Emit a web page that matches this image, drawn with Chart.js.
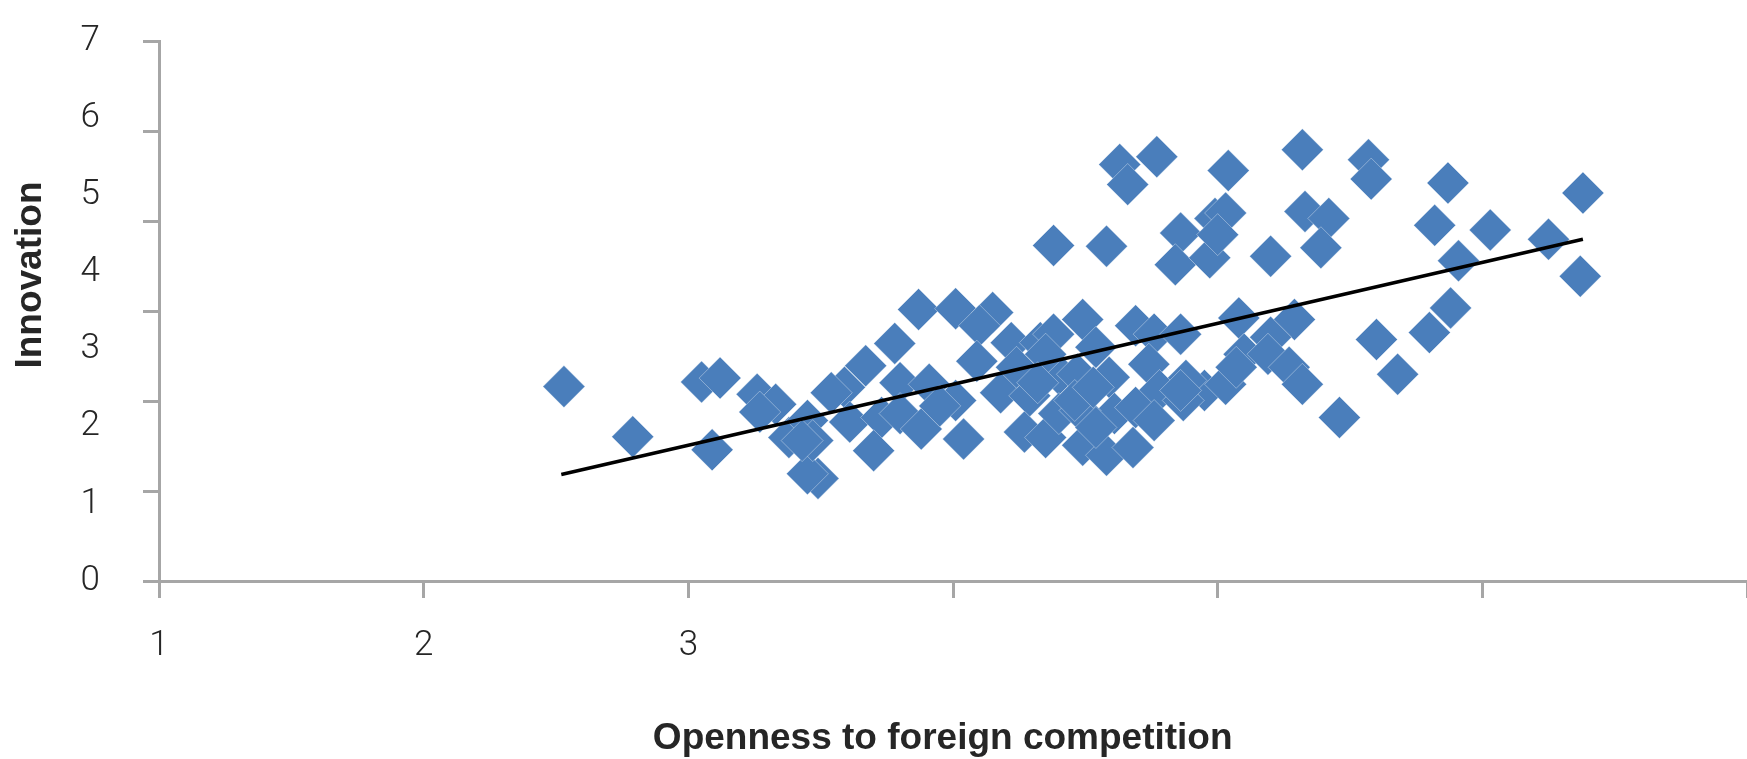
<!DOCTYPE html>
<html>
<head>
<meta charset="utf-8">
<script src="https://cdn.jsdelivr.net/npm/chart.js@4"></script>
<style>
  html, body { margin: 0; padding: 0; background: #fff; }
  #wrap { width: 1747px; height: 759px; }
</style>
</head>
<body>
<div id="wrap"><canvas id="chart" width="1747" height="759"></canvas></div>
<script>
// values: openness to foreign competition (x) vs innovation (y)
const openness = [
  2.53, 2.79, 3.05, 3.12, 3.09, 3.26, 3.33, 3.27, 3.38,
  4.38, 3.87, 4.01, 4.15, 4.10, 3.78, 3.67, 3.59, 3.54, 3.80,
  3.91, 4.09, 4.22, 4.33, 4.38, 4.18, 4.29, 3.61, 3.73, 3.80,
  3.88, 4.01, 4.04, 3.70, 4.27, 4.35, 3.49, 3.45, 3.45, 3.47,
  3.43, 3.95, 4.40, 4.24, 4.35, 4.40,
  4.63, 4.66, 4.77, 5.04, 5.32, 4.58, 4.86, 4.84, 4.97, 4.99,
  5.03, 5.00, 5.20, 5.33, 5.42, 5.39, 4.49, 4.69, 4.76, 4.86,
  5.08, 5.29, 5.20, 4.54, 4.74, 5.10, 5.19, 5.27, 5.32, 4.59,
  4.47, 4.95, 5.03, 5.07, 4.88, 4.78, 4.61, 4.69, 4.48, 4.87,
  4.49, 4.58, 4.68, 5.46, 4.54, 4.76,
  5.57, 5.58, 5.87, 6.38, 5.82, 6.03, 6.25, 5.91, 6.37, 5.88,
  5.80, 5.60, 5.68,
  4.46, 4.86, 4.32, 4.53
];
const innovation = [
  2.52, 1.87, 2.58, 2.63, 1.70, 2.42, 2.29, 2.19, 1.86,
  4.35, 3.52, 3.53, 3.48, 3.31, 3.08, 2.79, 2.51, 2.44, 2.57,
  2.55, 2.85, 3.09, 3.09, 3.20, 2.44, 2.40, 2.06, 2.12, 2.17,
  1.97, 2.34, 1.84, 1.69, 1.93, 1.86, 1.33, 1.39, 2.08, 1.82,
  1.82, 2.27, 2.68, 2.77, 2.94, 2.17,
  5.40, 5.14, 5.50, 5.32, 5.59, 4.34, 4.51, 4.10, 4.19, 4.70,
  4.77, 4.49, 4.21, 4.79, 4.70, 4.32, 3.39, 3.31, 3.20, 3.20,
  3.41, 3.39, 3.16, 3.03, 2.81, 2.94, 2.94, 2.77, 2.55, 2.64,
  2.68, 2.47, 2.55, 2.77, 2.60, 2.47, 2.17, 2.25, 2.21, 2.34,
  1.76, 1.63, 1.73, 2.12, 1.99, 2.08,
  5.46, 5.21, 5.16, 5.03, 4.61, 4.55, 4.43, 4.15, 3.95, 3.54,
  3.22, 3.13, 2.68,
  2.34, 2.47, 2.57, 2.51
];

// trend line end points
const trendX = [2.52, 6.38];
const trendY = [1.38, 4.43];

// only these x labels are printed
const xLabelsShown = [1, 2, 3];

const axisGrey = '#a6a6a6';
const textColor = '#262626';
const fontFamily = 'Roboto, "Liberation Sans", sans-serif';
const titleFont = { family: '"Liberation Sans", Arial, sans-serif', size: 37, weight: 'bold', lineHeight: 1 };

const points = openness.map((x, i) => ({ x: x, y: innovation[i] }));
const trend = trendX.map((x, i) => ({ x: x, y: trendY[i] }));

// note: ticks.padding also pads the chart area in Chart.js, so the label gaps
// are made with line height / hidden tick length instead
new Chart(document.getElementById('chart'), {
  type: 'scatter',
  data: {
    datasets: [
      {
        label: 'Trend',
        data: trend,
        showLine: true,
        borderColor: '#000',
        borderWidth: 3.5,
        pointRadius: 0,
        yAxisID: 'y'
      },
      {
        label: 'Countries',
        data: points,
        pointStyle: 'rectRot',
        pointRadius: 21,
        pointHoverRadius: 21,
        backgroundColor: '#4a7ebb',
        borderColor: 'rgba(255,255,255,0.35)',
        borderWidth: 1,
        yAxisID: 'y'
      }
    ]
  },
  options: {
    responsive: false,
    animation: false,
    layout: { autoPadding: false, padding: { top: 41, right: 0, left: 0, bottom: 0 } },
    plugins: { legend: { display: false }, tooltip: { enabled: false } },
    scales: {
      x: {
        type: 'linear',
        min: 1,
        max: 7,
        afterFit: (s) => { s.height = 178; },
        ticks: {
          stepSize: 1,
          autoSkip: false,
          maxRotation: 0,
          padding: 0,
          color: textColor,
          font: { family: fontFamily, size: 35, weight: 300, lineHeight: 2.74 },
          callback: (v) => xLabelsShown.includes(v) ? String(v) : ''
        },
        grid: { drawOnChartArea: false, color: axisGrey, lineWidth: 3, tickLength: 17 },
        border: { color: axisGrey, width: 3 },
        title: {
          display: true,
          text: 'Openness to foreign competition  ',
          color: textColor,
          font: titleFont,
          padding: 2
        }
      },
      // labels 0..7
      y: {
        type: 'linear',
        position: 'left',
        weight: 1,
        min: 0,
        max: 7,
        afterFit: (s) => { s.width = 143; },
        ticks: { stepSize: 1, padding: 0, color: textColor, font: { family: fontFamily, size: 35, weight: 300 } },
        grid: { display: false, drawTicks: true, tickLength: 43 },
        border: { display: false },
        title: {
          display: true,
          text: '       Innovation',
          color: textColor,
          font: titleFont,
          padding: 12
        }
      },
      // axis line and its tick marks
      y2: {
        type: 'linear',
        position: 'left',
        weight: 0,
        min: 0,
        max: 6,
        afterFit: (s) => { s.width = 16; },
        ticks: { stepSize: 1, display: false },
        grid: { drawOnChartArea: false, color: axisGrey, lineWidth: 3, tickLength: 16 },
        border: { color: axisGrey, width: 3 }
      }
    }
  }
});
</script>
</body>
</html>
